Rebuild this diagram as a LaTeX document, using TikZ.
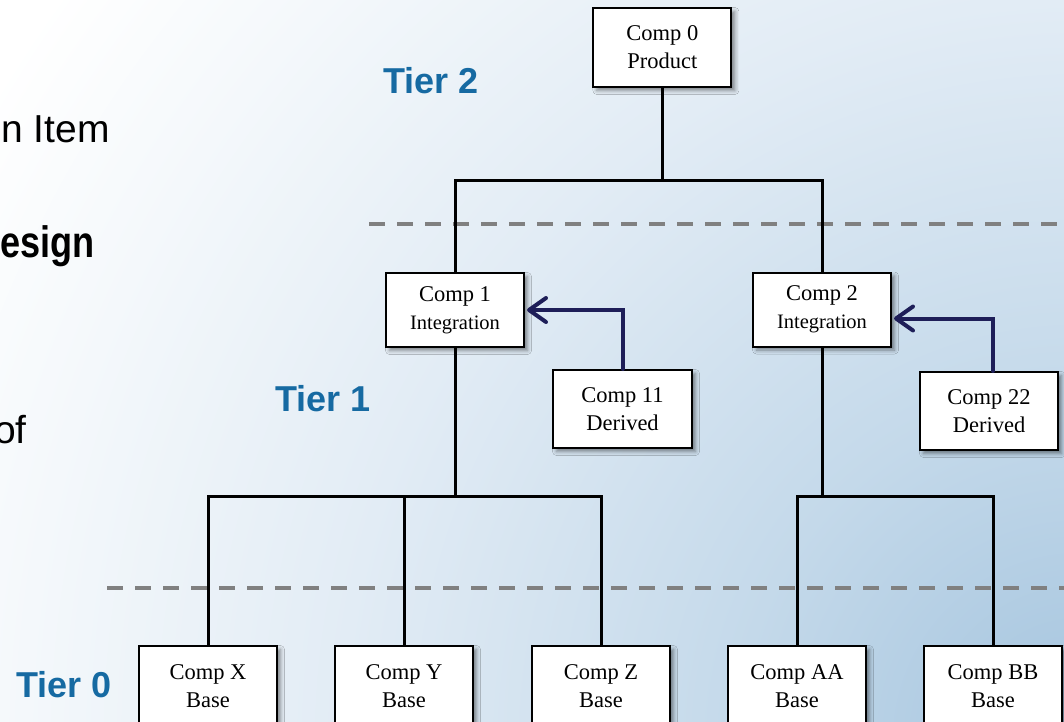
\documentclass[tikz,border=0pt]{standalone}
\usepackage{fontspec}
\setmainfont{Liberation Serif}
\newfontfamily\slidesans{Liberation Sans}
\usetikzlibrary{arrows.meta,shadows.blur}

\definecolor{tierblue}{RGB}{22,106,162}
\definecolor{feednavy}{RGB}{30,30,88}
\definecolor{dashgray}{RGB}{128,128,128}
\definecolor{glowA}{RGB}{164,196,222}
\definecolor{glowB}{RGB}{196,217,234}
\definecolor{glowC}{RGB}{226,236,245}
\definecolor{glowD}{RGB}{244,248,251}

% soft blue glow rising from the lower right corner
\pgfdeclareradialshading{backglow}{\pgfpoint{0bp}{0bp}}{%
  color(0bp)=(glowA); color(6.5bp)=(glowB); color(14bp)=(glowC);
  color(20bp)=(glowD); color(24bp)=(white); color(50bp)=(white)}

\tikzset{
  compbox/.style={draw=black, line width=2pt, fill=white, align=center,
    inner sep=0pt, minimum width=138pt,
    font=\fontsize{22.5}{28}\selectfont,
    blur shadow={shadow xshift=3.5pt, shadow yshift=-3.5pt,
      shadow blur radius=4pt, shadow opacity=45}},
  wire/.style={draw=black, line width=3pt},
  feed/.style={draw=feednavy, line width=4pt, line cap=round,
    -{Straight Barb[length=17pt, width=24pt, line width=4pt, round]}},
  divider/.style={draw=dashgray, line width=4pt, dash pattern=on 16pt off 12pt},
  tierlabel/.style={anchor=base, text=tierblue, inner sep=0pt,
    font=\slidesans\bfseries\fontsize{36}{40}\selectfont},
  slidetext/.style={anchor=base east, inner sep=0pt, text=black,
    font=\slidesans\fontsize{39}{44}\selectfont}
}

\newcommand{\subline}[1]{{\fontsize{20.5}{28}\selectfont #1}}

\begin{document}
\begin{tikzpicture}[x=1pt, y=-1pt]
  \useasboundingbox (0,0) rectangle (1064,721);
  \clip (0,0) rectangle (1064,721);

  % background
  \fill[white] (0,0) rectangle (1064,721);
  \shade[shading=backglow] (1080,740) circle (1320);

  % text of the slide running in from the left
  \node[slidetext] (itemtxt) at (110,142) {n Item};
  \node[slidetext, font=\slidesans\bfseries\fontsize{44}{48}\selectfont]
    (designtxt) at (95,257) {\scalebox{0.82}[1]{esign}};
  \node[slidetext] (oftxt) at (27,443) {of};

  % tier dividers
  \coordinate (upL) at (369,224);
  \coordinate (upR) at (1064,224);
  \coordinate (loL) at (107,588);
  \coordinate (loR) at (1064,588);
  \draw[divider] (upL) -- (upR);
  \draw[divider] (loL) -- (loR);

  % tier labels
  \node[tierlabel] (tier2) at (431,93.5) {Tier 2};
  \node[tierlabel] (tier1) at (323,411.5) {Tier 1};
  \node[tierlabel] (tier0) at (64,697) {Tier 0};

  % components
  \node[compbox, minimum height=79pt] (c0) at (662.4,47.5) {Comp 0\\Product};
  \node[compbox, minimum height=74pt] (c1) at (455,310) {Comp 1\\\subline{Integration}};
  \node[compbox, minimum height=74pt] (c2) at (822,309.5) {Comp 2\\\subline{Integration}};
  \node[compbox, minimum height=78pt, minimum width=139pt] (c11) at (622.5,409) {Comp 11\\Derived};
  \node[compbox, minimum height=78pt] (c22) at (989,411) {Comp 22\\Derived};

  \node[compbox, minimum height=80pt] (cx)  at (208,686) {Comp X\\Base};
  \node[compbox, minimum height=80pt] (cy)  at (404,686) {Comp Y\\Base};
  \node[compbox, minimum height=80pt] (cz)  at (601,686) {Comp Z\\Base};
  \node[compbox, minimum height=80pt] (caa) at (797,686) {Comp AA\\Base};
  \node[compbox, minimum height=80pt] (cbb) at (993,686) {Comp BB\\Base};

  % tree connectors
  \coordinate (bar2)  at (662.4,180);
  \coordinate (bar1a) at (455,496);
  \coordinate (bar1b) at (822,496);

  \draw[wire] (c0.south) -- (bar2);
  \draw[wire] (c1.north) |- (bar2) -| (c2.north);

  \draw[wire] (c1.south) -- (bar1a);
  \draw[wire] (cx.north) |- (bar1a) -| (cz.north);
  \draw[wire] (cy.north) -- (cy.north |- bar1a);

  \draw[wire] (c2.south) -- (bar1b);
  \draw[wire] (caa.north) |- (bar1b) -| (cbb.north);

  % derived components feeding the integrations
  \draw[feed] (c11.north) |- ([xshift=2pt]c1.east);
  \draw[feed] ([xshift=4pt]c22.north) |- ([xshift=2pt,yshift=-9pt]c2.east);
\end{tikzpicture}
\end{document}
